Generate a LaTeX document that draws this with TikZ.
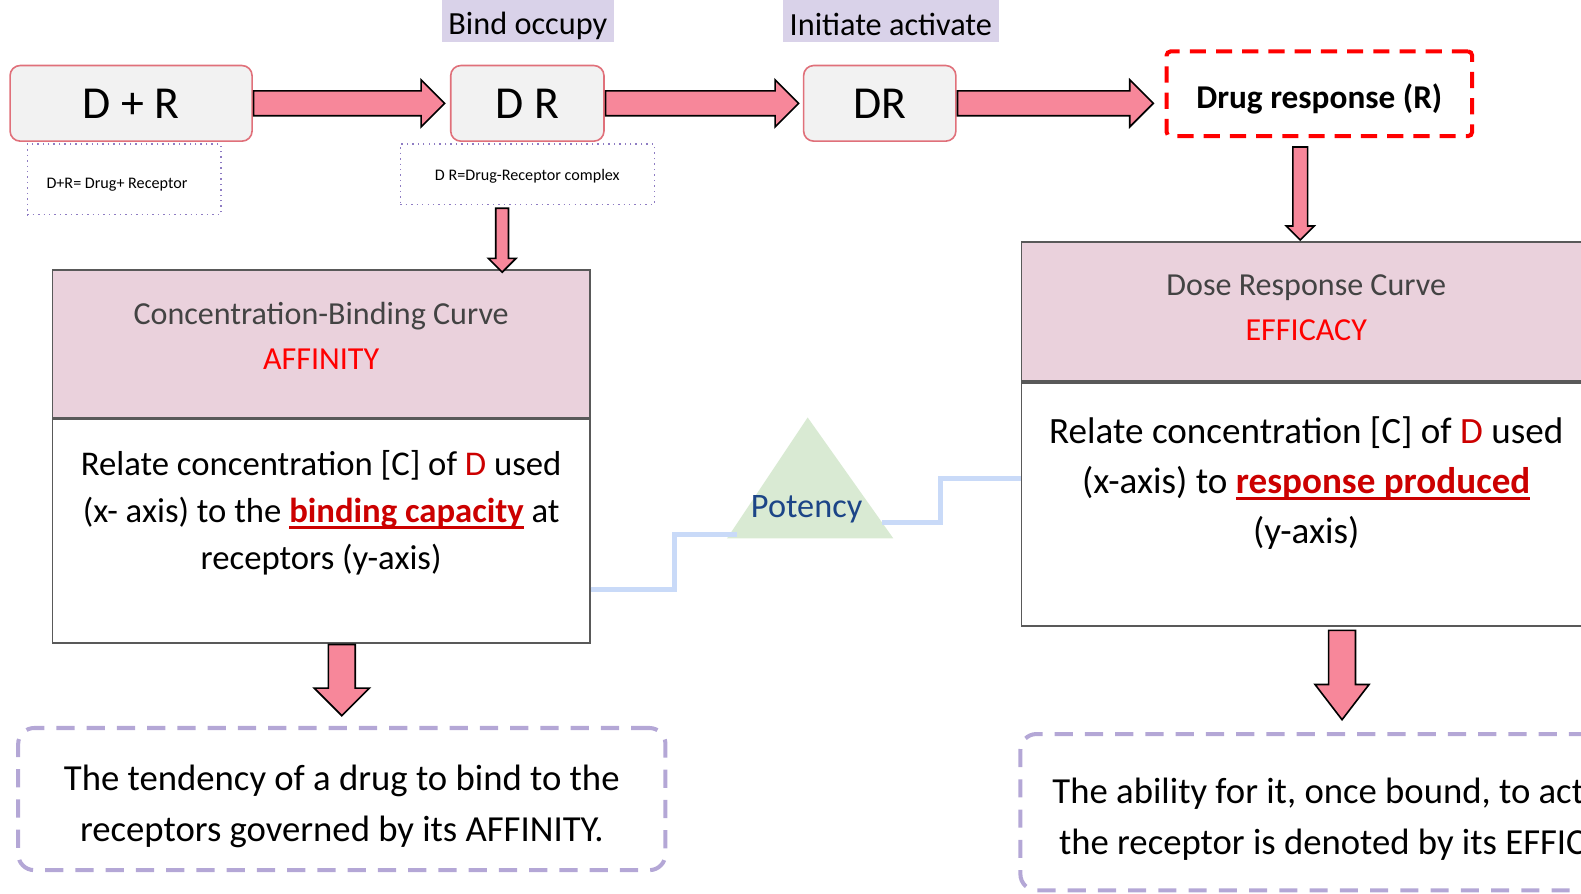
\documentclass[tikz,border=0pt]{standalone}
\usepackage{fontspec}
\setmainfont{Carlito}
\usetikzlibrary{positioning,calc,shapes.arrows}
\definecolor{arrowpink}{HTML}{F7879A}
\definecolor{stageline}{HTML}{E0707A}
\definecolor{stagefill}{HTML}{F2F2F2}
\definecolor{tagfill}{HTML}{D9D2E9}
\definecolor{noteline}{HTML}{8E7CC3}
\definecolor{capfill}{HTML}{EAD1DC}
\definecolor{captext}{HTML}{434343}
\definecolor{frameline}{HTML}{595959}
\definecolor{sumline}{HTML}{B4A7D6}
\definecolor{potfill}{HTML}{D9EAD3}
\definecolor{potblue}{HTML}{1C4587}
\definecolor{linkblue}{HTML}{C9DAF8}
\definecolor{dred}{HTML}{CC0000}
\newcommand{\redul}[1]{\textcolor{dred}{\bfseries\setbox0\hbox{#1}\rlap{\rule[-3pt]{\wd0}{1.3pt}}\box0}}
\newcommand{\lowered}[2]{\raisebox{-#1}[\height][\depth]{#2}}
% fat arrow from #2 to #3
\newcommand{\fatarrow}[3][]{%
  \path let \p1=(#2), \p2=(#3), \n1={atan2(\y2-\y1,\x2-\x1)}, \n2={veclen(\x2-\x1,\y2-\y1)} in
    node[bigarrow, minimum height=\n2, rotate=\n1, anchor=tail, #1] at (#2) {};}
\begin{document}
\begin{tikzpicture}[x=0.5pt,y=-0.5pt,
    stage/.style={draw=stageline, fill=stagefill, rounded corners=5pt, line width=0.8pt,
      minimum height=37.5pt, font=\fontsize{22.7}{25}\selectfont},
    tagbox/.style={fill=tagfill, minimum height=21pt, font=\fontsize{16}{18}\selectfont},
    notebox/.style={draw=noteline, dotted, line width=0.7pt, font=\fontsize{8}{10}\selectfont},
    headbox/.style={draw=frameline, fill=capfill, line width=0.8pt},
    headtxt/.style={align=center, text=captext, font=\fontsize{15.9}{22.5}\selectfont},
    panel/.style={draw=frameline, fill=white, line width=0.8pt},
    paneltxt/.style={align=center, font=\fontsize{17.2}{23.5}\selectfont},
    summary/.style={draw=sumline, dash pattern=on 9pt off 6pt, line width=2pt, rounded corners=8pt},
    sumtxt/.style={align=center, font=\fontsize{18.2}{25.5}\selectfont},
    bigarrow/.style={single arrow, draw=black, fill=arrowpink, line width=0.8pt, inner sep=0pt,
      text depth=0pt, single arrow tip angle=90},
    link/.style={draw=linkblue, line width=2.5pt}]
  \useasboundingbox (0,0) rectangle (1568,886);
  \clip (0,0) rectangle (1568,886);

  % top row
  \node[stage, minimum width=120pt] (dpr) at (130,102.5) {D + R};
  \node[stage, minimum width=76pt] (dr1) at (523,102.5) {D R};
  \node[stage, minimum width=75.5pt] (dr2) at (872.5,102.5) {DR};
  \node[draw=red, dash pattern=on 8pt off 5pt, line width=2pt, rounded corners=2pt,
    minimum width=151.5pt, minimum height=42pt, font=\bfseries\fontsize{16.5}{18}\selectfont]
    (resp) at (1308.5,93) {\lowered{2.5pt}{Drug response (R)}};
  \node[tagbox, minimum width=77.5pt] (bind) at (523.5,21) {\lowered{2.5pt}{Bind occupy}};
  \node[tagbox, minimum width=104.5pt] (init) at (883.5,21) {\lowered{1.5pt}{Initiate activate}};
  \node[notebox, minimum width=96pt, minimum height=35pt] (dprnote) at (123,178)
    {\lowered{2.5pt}{D+R= Drug+ Receptor}\hspace*{7pt}};
  \node[notebox, minimum width=126pt, minimum height=30pt] (drnote) at (523,173)
    {\lowered{1pt}{D R=Drug-Receptor complex}};

  % curve boxes
  \node[headbox, minimum width=266.5pt, minimum height=73pt,
    label={[headtxt, yshift=4pt]center:Concentration-Binding Curve\\\textcolor{red}{AFFINITY}}]
    (leftcap) at (318.5,341) {};
  \node[panel, minimum width=266.5pt, minimum height=111pt, below=0pt of leftcap,
    label={[paneltxt, yshift=9pt]center:Relate concentration [C] of \textcolor{dred}{D} used\\(x- axis) to the \redul{binding capacity} at\\receptors (y-axis)}]
    (leftbody) {};
  \node[headbox, minimum width=282.5pt, minimum height=69pt,
    label={[headtxt, yshift=2pt]center:Dose Response Curve\\\textcolor{red}{EFFICACY}}]
    (rightcap) at (1295.5,309) {};
  \node[panel, minimum width=282.5pt, minimum height=120.5pt, below=0pt of rightcap,
    label={[paneltxt, font=\fontsize{18.4}{25}\selectfont, yshift=10.5pt]center:Relate concentration [C] of \textcolor{dred}{D} used\\(x-axis) to \redul{response produced}\\(y-axis)}]
    (rightbody) {};

  % summaries
  \node[summary, minimum width=321pt, minimum height=70.5pt,
    label={[sumtxt, yshift=-3.5pt]center:The tendency of a drug to bind to the\\receptors governed by its AFFINITY.}]
    (bl) at (339,792.5) {};
  \node[summary, minimum width=319pt, minimum height=77.5pt,
    label={[sumtxt, yshift=-3.5pt, xshift=6pt]center:The ability for it, once bound, to activate\\the receptor is denoted by its EFFICACY.}]
    (br) at (1331,805.5) {};

  % potency
  \coordinate (apex) at (801,414);
  \coordinate (tri-l) at (731,530);
  \coordinate (tri-r) at (875,518);
  \fill[potfill] (apex) -- (721,534) -- (886,534) -- cycle;
  \node[text=potblue, font=\fontsize{17}{19}\selectfont] (potency) at (800,505) {Potency};
  \draw[link] ($(leftbody.east)+(0,58)$) -- ++(83,0) |- (tri-l);
  \draw[link] (tri-r) -- ++(58,0) |- ($(rightbody.west)+(0,-25.5)$);

  % arrows
  \coordinate (a1) at ($(dr1.west)+(-6,0)$);
  \coordinate (a2) at ($(dr2.west)+(-5,0)$);
  \coordinate (a3) at ($(dr2.east -| resp.west)+(-12,0)$);
  \fatarrow[text height=11.5pt, single arrow head extend=5.5pt]{dpr.east}{a1}
  \fatarrow[text height=11.5pt, single arrow head extend=5.5pt]{dr1.east}{a2}
  \fatarrow[text height=11.5pt, single arrow head extend=5.5pt]{dr2.east}{a3}
  \coordinate (v1a) at ($(drnote.south)+(-25,2)$);
  \coordinate (v1b) at ($(v1a |- leftcap.north)+(0,2)$);
  \coordinate (v2a) at ($(resp.south)+(-19,8)$);
  \coordinate (v2b) at ($(v2a |- rightcap.north)+(0,-2)$);
  \coordinate (v3a) at (bl.north |- leftbody.south);
  \coordinate (v3b) at ($(bl.north)+(0,-11)$);
  \coordinate (v4a) at ($(br.north |- rightbody.south)+(0,3)$);
  \coordinate (v4b) at ($(br.north)+(0,-13)$);
  \fatarrow[text height=5.5pt, single arrow head extend=3.75pt]{v1a}{v1b}
  \fatarrow[text height=6.5pt, single arrow head extend=3.25pt]{v2a}{v2b}
  \fatarrow[text height=12.5pt, single arrow head extend=7pt]{v3a}{v3b}
  \fatarrow[text height=12.5pt, single arrow head extend=6.75pt, single arrow tip angle=75]{v4a}{v4b}
\end{tikzpicture}
\end{document}
